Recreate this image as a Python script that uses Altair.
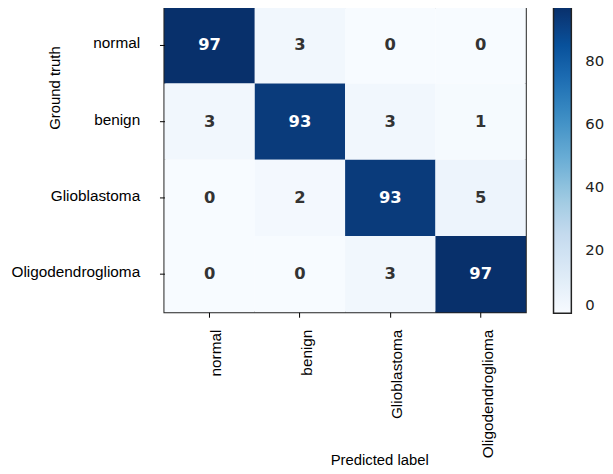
import altair as alt
import pandas as pd
import numpy as np

classes = ["normal", "benign", "Glioblastoma", "Oligodendroglioma"]
row_normal = [97, 3, 0, 0]
row_benign = [3, 93, 3, 1]
row_glio = [0, 2, 93, 5]
row_oligo = [0, 0, 3, 97]
colorbar_ticks = [0, 20, 40, 60, 80]

rows = [row_normal, row_benign, row_glio, row_oligo]
records = []
for t, vals in zip(classes, rows):
    for p, v in zip(classes, vals):
        records.append({"truth": t, "pred": p, "value": v})
df = pd.DataFrame(records)

blues = ["#f7fbff", "#deebf7", "#c6dbef", "#9ecae1", "#6baed6",
         "#4292c6", "#2171b5", "#08519c", "#08306b"]
vmax = max(max(r) for r in rows)
stops = [float(s) for s in np.linspace(0, vmax, len(blues))]

LABEL_FONT = "Liberation Sans"

x_axis = alt.Axis(
    labelAngle=270, labelFont=LABEL_FONT, labelFontSize=15.5, labelColor="black",
    labelPadding=12, labelOffset=7, tickColor="black", tickSize=5, tickWidth=1,
    domain=False, titleFont=LABEL_FONT, titleFontSize=15, titleFontWeight="normal",
    titleColor="black", titleX=217, titleY=149, titleBaseline="middle",
)
y_axis = alt.Axis(
    labelFont=LABEL_FONT, labelFontSize=15.5, labelColor="black",
    labelPadding=20, labelOffset=-2, tickColor="black", tickSize=5, tickWidth=1,
    domain=False, titleFont=LABEL_FONT, titleFontSize=15, titleFontWeight="normal",
    titleColor="black", titleX=-111, titleY=81, titleBaseline="middle", titleAngle=270,
)

base = alt.Chart(df).encode(
    x=alt.X("pred:N", sort=classes, title="Predicted label", axis=x_axis,
            scale=alt.Scale(paddingInner=0, paddingOuter=0)),
    y=alt.Y("truth:N", sort=classes, title="Ground truth", axis=y_axis,
            scale=alt.Scale(paddingInner=0, paddingOuter=0)),
)

rect = base.mark_rect().encode(
    color=alt.Color(
        "value:Q",
        scale=alt.Scale(domain=stops, range=blues),
        legend=alt.Legend(
            title=None, orient="right", offset=28, padding=0,
            gradientLength=309, gradientThickness=18,
            gradientStrokeColor="#222222", gradientStrokeWidth=1.5,
            values=colorbar_ticks, labelFont="DejaVu Sans", labelFontSize=15,
            labelColor="#222222", labelOffset=14, labelBaseline="middle",
        ),
    )
)

text = base.mark_text(font="DejaVu Sans", fontWeight="bold", fontSize=16.5).encode(
    text="value:Q",
    color=alt.condition(alt.datum.value > vmax / 2, alt.value("white"), alt.value("#333333")),
)

chart = (
    alt.layer(rect, text)
    .properties(
        width=365, height=308,
        autosize=alt.AutoSizeParams(type="none"),
        padding={"left": 158, "top": -3, "right": 80, "bottom": 160},
    )
    .configure_view(stroke="#222222", strokeWidth=2)
)

chart.save("out.html", embed_options={"renderer": "svg", "actions": False})
